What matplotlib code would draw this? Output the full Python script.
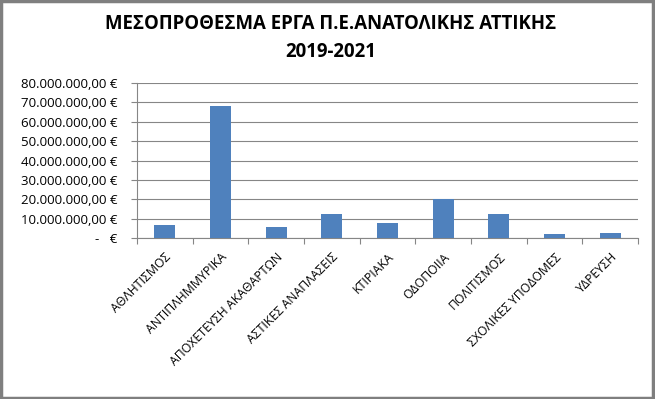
import matplotlib
matplotlib.use("Agg")
import matplotlib.pyplot as plt
from matplotlib.ticker import FuncFormatter, MultipleLocator
from matplotlib.patches import Rectangle

plt.rcParams['font.family'] = ['Open Sans', 'DejaVu Sans']

# δεδομένα
categories = ['ΑΘΛΗΤΙΣΜΟΣ', 'ΑΝΤΙΠΛΗΜΜΥΡΙΚΑ', 'ΑΠΟΧΕΤΕΥΣΗ ΑΚΑΘΑΡΤΩΝ', 'ΑΣΤΙΚΕΣ ΑΝΑΠΛΑΣΕΙΣ',
              'ΚΤΙΡΙΑΚΑ', 'ΟΔΟΠΟΙΙΑ', 'ΠΟΛΙΤΙΣΜΟΣ', 'ΣΧΟΛΙΚΕΣ ΥΠΟΔΟΜΕΣ', 'ΥΔΡΕΥΣΗ']
values = [6700000, 68100000, 5800000, 12400000, 7900000, 20000000, 12400000, 2200000, 2600000]
title = 'ΜΕΣΟΠΡΟΘΕΣΜΑ ΕΡΓΑ Π.Ε.ΑΝΑΤΟΛΙΚΗΣ ΑΤΤΙΚΗΣ\n2019-2021'


def euro(v, pos):
    if v == 0:
        return '-   €'
    s = f'{v:,.2f}'
    s = s.replace(',', 'X').replace('.', ',').replace('X', '.')
    return s + ' €'


fig = plt.figure(figsize=(6.55, 3.99), dpi=100)
ax = fig.add_axes([0.209, 0.403, 0.765, 0.389])

x = list(range(len(categories)))
ax.bar(x, values, width=0.38, color='#4F81BD', zorder=3)

ax.set_xlim(-0.5, len(categories) - 0.5)
ax.set_ylim(0, 80000000)
ax.yaxis.set_major_locator(MultipleLocator(10000000))
ax.yaxis.set_major_formatter(FuncFormatter(euro))
ax.grid(axis='y', color='#868686', linewidth=0.8, zorder=0)

ax.set_xticks([i - 0.5 for i in range(len(categories) + 1)], minor=False)
ax.set_xticklabels([])
ax.set_xticks(x, minor=True)
ax.set_xticklabels(categories, minor=True, rotation=45, ha='right', rotation_mode='anchor',
                   fontsize=8.8)
ax.tick_params(axis='x', which='minor', length=0, pad=9)
ax.tick_params(axis='x', which='major', length=4, color='#868686')
ax.tick_params(axis='y', length=4, color='#868686', labelsize=9.5, pad=10)

for s in ['top', 'right']:
    ax.spines[s].set_visible(False)
for s in ['left', 'bottom']:
    ax.spines[s].set_color('#868686')
    ax.spines[s].set_linewidth(0.8)

fig.text(0.505, 0.905, title, ha='center', va='center', fontsize=13.4, fontweight='bold',
         linespacing=1.5)

# πλαίσιο γύρω από το γράφημα
fig.patches.append(Rectangle((0.002, 0.003), 0.995, 0.994, transform=fig.transFigure,
                             fill=False, edgecolor='#7f7f7f', linewidth=2.5))

fig.savefig('out.png', dpi=100)
